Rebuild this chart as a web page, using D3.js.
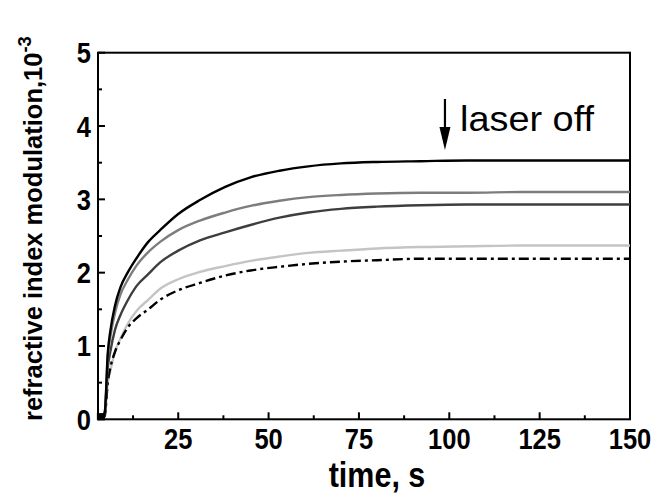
<!DOCTYPE html>
<html lang="en">
<head>
<meta charset="UTF-8">
<title>Refractive index modulation</title>
<script src="https://d3js.org/d3.v7.min.js"></script>
<style>
  body { margin: 0; background: #fff; font-family: "Liberation Sans", Arial, sans-serif; }
</style>
</head>
<body>
<svg id="chart" width="656" height="494"></svg>
<script>
// data (time in s, modulation in 1e-3)
const times     = [4, 4.7, 5.5, 6.2, 7.5, 9, 11, 13.5, 16.7, 20, 25, 31, 38, 45, 53, 61, 70, 80, 92, 105, 120, 135, 150];
const blackVals = [0, 0.10, 0.90, 1.20, 1.55, 1.80, 2.00, 2.20, 2.42, 2.58, 2.80, 2.99, 3.17, 3.30, 3.39, 3.45, 3.49, 3.51, 3.52, 3.53, 3.53, 3.53, 3.53];
const grayVals  = [0, 0.10, 0.85, 1.12, 1.45, 1.70, 1.90, 2.10, 2.28, 2.42, 2.58, 2.71, 2.82, 2.91, 2.98, 3.03, 3.06, 3.08, 3.09, 3.09, 3.10, 3.10, 3.10];
const darkVals  = [0, 0.10, 0.70, 0.92, 1.22, 1.42, 1.62, 1.82, 1.98, 2.14, 2.30, 2.44, 2.55, 2.65, 2.75, 2.82, 2.87, 2.90, 2.92, 2.93, 2.93, 2.93, 2.93];
const lightVals = [0, 0.08, 0.50, 0.66, 0.92, 1.10, 1.30, 1.48, 1.63, 1.78, 1.91, 2.01, 2.09, 2.16, 2.22, 2.27, 2.30, 2.33, 2.35, 2.36, 2.37, 2.37, 2.37];
const dashVals  = [0, 0.05, 0.50, 0.70, 0.92, 1.08, 1.25, 1.38, 1.50, 1.63, 1.76, 1.86, 1.96, 2.03, 2.08, 2.12, 2.15, 2.17, 2.19, 2.19, 2.19, 2.19, 2.19];
const startT = [3.6], startV = [0.03];

const xTicks = [25, 50, 75, 100, 125, 150];
const yTicks = [0, 1, 2, 3, 4, 5];

const svg = d3.select("#chart");
const mLeft = 98, mRight = 630, mTop = 52.7, mBottom = 419.3;

const x = d3.scaleLinear().domain([2.8, 150]).range([mLeft, mRight]);
const y = d3.scaleLinear().domain([0, 5]).range([mBottom, mTop]);

// frame
svg.append("rect")
    .attr("x", mLeft).attr("y", mTop)
    .attr("width", mRight - mLeft).attr("height", mBottom - mTop)
    .attr("fill", "none").attr("stroke", "#000").attr("stroke-width", 2);

// ticks (inside)
const xMinor = d3.range(12.5, 150, 25);
const yMinor = d3.range(0.5, 5, 1);
const tk = svg.append("g").attr("stroke", "#000").attr("stroke-width", 2);
xTicks.forEach(t => tk.append("line").attr("x1", x(t)).attr("x2", x(t)).attr("y1", mBottom).attr("y2", mBottom - 7));
xMinor.forEach(t => tk.append("line").attr("x1", x(t)).attr("x2", x(t)).attr("y1", mBottom).attr("y2", mBottom - 4));
yTicks.forEach(v => tk.append("line").attr("x1", mLeft).attr("x2", mLeft + 7).attr("y1", y(v)).attr("y2", y(v)));
yMinor.forEach(v => tk.append("line").attr("x1", mLeft).attr("x2", mLeft + 4).attr("y1", y(v)).attr("y2", y(v)));

// tick labels (picture is stretched vertically ~1.2x)
xTicks.forEach(t => {
  svg.append("text")
    .attr("transform", `translate(${x(t)},448.5) scale(1,1.18)`)
    .attr("text-anchor", "middle")
    .style("font-weight", "bold").style("font-size", "25.5px")
    .text(t);
});
yTicks.forEach(v => {
  svg.append("text")
    .attr("transform", `translate(91,${y(v) + 10.5}) scale(1,1.18)`)
    .attr("text-anchor", "end")
    .style("font-weight", "bold").style("font-size", "25.5px")
    .text(v);
});

// axis titles
svg.append("text")
    .attr("transform", "translate(377,486.5) scale(1,1.12)")
    .attr("text-anchor", "middle")
    .style("font-weight", "bold").style("font-size", "30.5px")
    .text("time, s");

const yl = svg.append("text")
    .attr("transform", "translate(42,421) scale(1,1.02) rotate(-90)")
    .attr("text-anchor", "start")
    .style("font-weight", "bold").style("font-size", "25px");
yl.append("tspan").text("refractive index modulation,10");
yl.append("tspan").attr("dy", -11).style("font-size", "18px").text("-3");

// curves
const line = d3.line()
    .x((d, i) => x(times[i]))
    .y(d => y(d))
    .curve(d3.curveMonotoneX);

const series = [
  { vals: lightVals, color: "#c4c4c4", dash: null },
  { vals: dashVals,  color: "#000",    dash: "10,4,3,4" },
  { vals: darkVals,  color: "#3e3e3e", dash: null },
  { vals: grayVals,  color: "#7d7d7d", dash: null },
  { vals: blackVals, color: "#000",    dash: null }
];
series.forEach(s => {
  svg.append("path")
    .attr("d", line(s.vals))
    .attr("fill", "none")
    .attr("stroke", s.color)
    .attr("stroke-width", 2.4)
    .attr("stroke-dasharray", s.dash);
});

// start marker
startT.forEach((t, i) => {
  svg.append("rect")
    .attr("x", x(t) - 4).attr("y", y(startV[i]) - 4)
    .attr("width", 8).attr("height", 7)
    .attr("fill", "#000");
});

// laser off annotation
const ax = x(98.8);
svg.append("line")
    .attr("x1", ax).attr("x2", ax).attr("y1", 99).attr("y2", 132)
    .attr("stroke", "#000").attr("stroke-width", 2.2);
svg.append("path")
    .attr("d", `M${ax - 5.5},127 L${ax + 5.5},127 L${ax},150 Z`)
    .attr("fill", "#000");
svg.append("text")
    .attr("transform", "translate(460,131) scale(1,1.2)")
    .attr("textLength", 134).attr("lengthAdjust", "spacingAndGlyphs")
    .style("font-size", "29px")
    .text("laser off");
</script>
</body>
</html>
